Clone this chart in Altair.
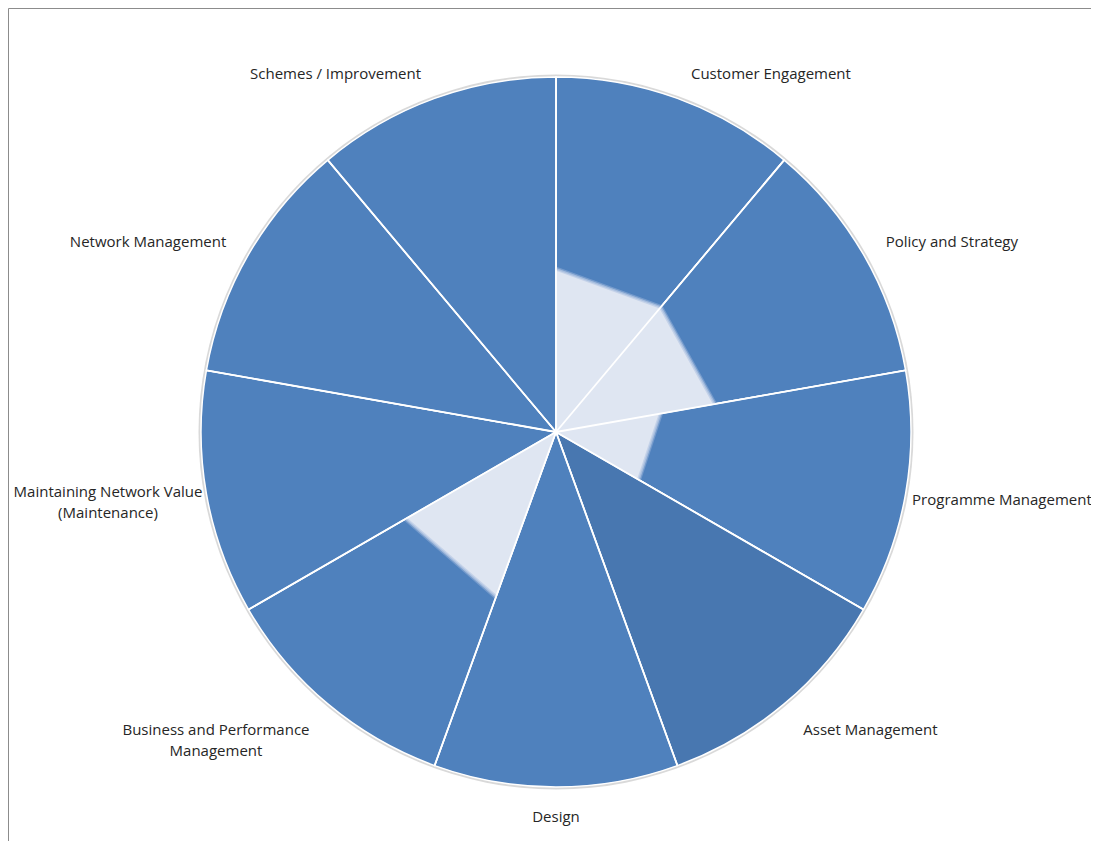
import math
import altair as alt
import pandas as pd

# ---------------- data ----------------
categories = [
    "Customer Engagement",
    "Policy and Strategy",
    "Programme Management",
    "Asset Management",
    "Design",
    "Business and Performance Management",
    "Maintaining Network Value (Maintenance)",
    "Network Management",
    "Schemes / Improvement",
]
label_text = [
    "Customer Engagement",
    "Policy and Strategy",
    "Programme Management",
    "Asset Management",
    "Design",
    "Business and Performance\nManagement",
    "Maintaining Network Value\n(Maintenance)",
    "Network Management",
    "Schemes / Improvement",
]
slice_share = [1, 1, 1, 1, 1, 1, 1, 1, 1]
# inner (light) score at the start and end edge of each slice, % of full radius
light_start = [46, 46, 30, 0, 0, 49.5, 0, 0, 0]
light_end = [46, 45.5, 27, 0, 0, 49, 0, 0, 0]

# ---------------- styles ----------------
BASE = "#4F81BD"
DARK = "#4877B0"
LIGHT = "#DFE6F2"
EDGE = "#A4BBDD"
slice_colors = [BASE, BASE, BASE, DARK, BASE, BASE, BASE, BASE, BASE]
FONT = "Open Sans"
FS = 15

W, H = 1070, 818
R_PX = 355
PX = R_PX / 100.0
xs = alt.Scale(domain=[-W / 2 / PX, W / 2 / PX], nice=False, zero=False)
ys = alt.Scale(domain=[-H / 2 / PX, H / 2 / PX], nice=False, zero=False)

# ---------------- tables ----------------
n = len(categories)
total = float(sum(slice_share))
cum = [0.0]
for s in slice_share:
    cum.append(cum[-1] + s)
a0 = [360.0 * c / total for c in cum[:-1]]
a1 = [360.0 * c / total for c in cum[1:]]

pie_df = pd.DataFrame({"cat": categories, "idx": list(range(n)), "share": slice_share})

tri_rows = []
for i, c in enumerate(categories):
    tri_rows += [
        {"cat": c, "ord": 0, "r": 0.0, "ang": a0[i]},
        {"cat": c, "ord": 1, "r": light_start[i], "ang": a0[i]},
        {"cat": c, "ord": 2, "r": light_end[i], "ang": a1[i]},
        {"cat": c, "ord": 3, "r": 0.0, "ang": a1[i]},
    ]
tri_df = pd.DataFrame(tri_rows)

rule_df = pd.DataFrame({"ang": a0, "r": [100.0] * n})
lab_df = pd.DataFrame({"cat": categories, "text": label_text,
                       "ang": [(p + q) / 2 for p, q in zip(a0, a1)], "r": [104.0] * n})

calc_xy = dict(px="datum.r * sin(datum.ang * PI / 180)",
               py="datum.r * cos(datum.ang * PI / 180)")

# ---------------- layers ----------------
shadow = alt.Chart(pd.DataFrame({"k": [0]})).mark_arc(
    outerRadius=R_PX + 2.5, color="#cfcfcf", opacity=0.8
).encode(theta=alt.value(0), theta2=alt.value(2 * math.pi))

pie = alt.Chart(pie_df).mark_arc(outerRadius=R_PX, stroke="white", strokeWidth=1.5).encode(
    theta=alt.Theta("share:Q", stack=True),
    order=alt.Order("idx:Q"),
    color=alt.Color("cat:N", scale=alt.Scale(domain=categories, range=slice_colors), legend=None),
)

tri = alt.Chart(tri_df).transform_calculate(**calc_xy).mark_line(
    fill=LIGHT, stroke=LIGHT, strokeWidth=0.5, interpolate="linear-closed"
).encode(
    x=alt.X("px:Q", scale=xs, axis=None),
    y=alt.Y("py:Q", scale=ys, axis=None),
    detail="cat:N",
    order="ord:Q",
)

# soft outer edge of the light areas
edge_wide = alt.Chart(tri_df).transform_filter(
    (alt.datum.ord == 1) | (alt.datum.ord == 2)
).transform_filter(alt.datum.r > 0).transform_calculate(**calc_xy).mark_line(
    stroke=EDGE, strokeWidth=4, opacity=0.45
).encode(
    x=alt.X("px:Q", scale=xs, axis=None),
    y=alt.Y("py:Q", scale=ys, axis=None),
    detail="cat:N",
    order="ord:Q",
)
edge_thin = edge_wide.mark_line(stroke=EDGE, strokeWidth=1.5, opacity=0.8)

rules = alt.Chart(rule_df).transform_calculate(
    x0="0", y0="0",
    x1="datum.r * sin(datum.ang * PI / 180)",
    y1="datum.r * cos(datum.ang * PI / 180)",
).mark_rule(color="white", strokeWidth=1.8).encode(
    x=alt.X("x0:Q", scale=xs, axis=None),
    y=alt.Y("y0:Q", scale=ys, axis=None),
    x2="x1:Q",
    y2="y1:Q",
)

label_style = {
    "Customer Engagement": ("left", 8.7, -11),
    "Policy and Strategy": ("left", 10, -5),
    "Programme Management": ("left", -7.5, 4),
    "Asset Management": ("left", 10, 15),
    "Design": ("center", 0, 16),
    "Business and Performance Management": ("center", -102.7, 15.2),
    "Maintaining Network Value (Maintenance)": ("center", -84.4, -4.1),
    "Network Management": ("right", -10, -5),
    "Schemes / Improvement": ("right", -8.7, -11),
}
labels = []
for c in categories:
    al, dx, dy = label_style[c]
    labels.append(
        alt.Chart(lab_df).transform_filter(alt.datum.cat == c).transform_calculate(**calc_xy)
        .mark_text(align=al, baseline="middle", dx=dx, dy=dy, font=FONT, fontSize=FS,
                   color="#262626", lineBreak="\n", lineHeight=21)
        .encode(x=alt.X("px:Q", scale=xs, axis=None), y=alt.Y("py:Q", scale=ys, axis=None),
                text="text:N")
    )

frame_df = pd.DataFrame({"k": [0]})
frame_top = alt.Chart(frame_df).mark_rule(color="#8c8c8c", strokeWidth=1).encode(
    x=alt.value(-12.5), x2=alt.value(W + 30), y=alt.value(-14.5))
frame_left = alt.Chart(frame_df).mark_rule(color="#8c8c8c", strokeWidth=1).encode(
    x=alt.value(-12.5), y=alt.value(-14.5), y2=alt.value(H + 30))

chart = alt.layer(shadow, pie, tri, edge_wide, edge_thin, rules, *labels,
                  frame_top, frame_left).properties(
    width=W, height=H,
    padding={"left": 13, "top": 15, "right": 0, "bottom": 0},
    autosize=alt.AutoSizeParams(type="none"),
).configure_view(stroke=None)

chart.save("out.html", embed_options={"renderer": "svg", "actions": False})
